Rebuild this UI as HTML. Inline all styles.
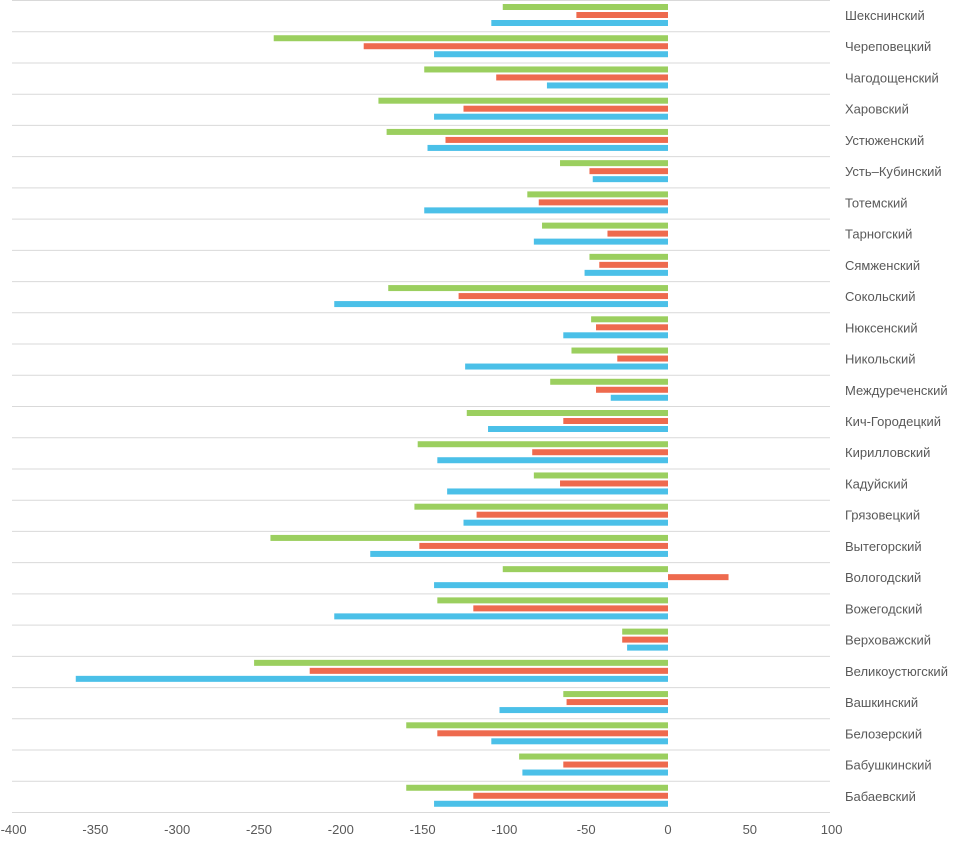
<!DOCTYPE html>
<html><head><meta charset="utf-8"><style>
body{margin:0;background:#fff;width:954px;height:836px;overflow:hidden;font-family:"Liberation Sans","DejaVu Sans",sans-serif}
</style></head><body>
<svg id="chart" width="954" height="836" xmlns="http://www.w3.org/2000/svg"></svg>
<script>
const categories=["Шекснинский","Череповецкий","Чагодощенский","Харовский","Устюженский","Усть–Кубинский","Тотемский","Тарногский","Сямженский","Сокольский","Нюксенский","Никольский","Междуреченский","Кич-Городецкий","Кирилловский","Кадуйский","Грязовецкий","Вытегорский","Вологодский","Вожегодский","Верховажский","Великоустюгский","Вашкинский","Белозерский","Бабушкинский","Бабаевский"];
const greenValues=[-101,-241,-149,-177,-172,-66,-86,-77,-48,-171,-47,-59,-72,-123,-153,-82,-155,-243,-101,-141,-28,-253,-64,-160,-91,-160];
const redValues=[-56,-186,-105,-125,-136,-48,-79,-37,-42,-128,-44,-31,-44,-64,-83,-66,-117,-152,37,-119,-28,-219,-62,-141,-64,-119];
const blueValues=[-108,-143,-74,-143,-147,-46,-149,-82,-51,-204,-64,-124,-35,-110,-141,-135,-125,-182,-143,-204,-25,-362,-103,-108,-89,-143];
const tickValues=[-400,-350,-300,-250,-200,-150,-100,-50,0,50,100];
const svg=document.getElementById('chart');
const NS='http://www.w3.org/2000/svg';
const x=v=>668+v*1.636;
const rowH=812/categories.length;
function mk(t,a){const e=document.createElementNS(NS,t);for(const k in a)e.setAttribute(k,a[k]);svg.appendChild(e);return e;}
for(let i=0;i<=categories.length;i++){
  const g=mk('line',{x1:12,x2:830,y1:i*rowH+0.5,y2:i*rowH+0.5,stroke:'#d9d9d9','stroke-width':1});
  
  
}
const series=[[greenValues,'#9bcf5f',4],[redValues,'#ee6a4e',12],[blueValues,'#4bc0e8',20]];
categories.forEach((c,i)=>{
  const top=i*rowH;
  series.forEach(([vals,col,off],s)=>{
    const v=vals[i];
    const r=mk('rect',{x:Math.min(x(0),x(v)),y:top+off,width:Math.abs(x(v)-x(0)),height:6,fill:col});
    
    
  });
  const t=mk('text',{x:845,y:top+20,fill:'#595959','font-size':13});
  t.textContent=c;
  
  
});
tickValues.forEach(v=>{
  const t=mk('text',{x:x(v),y:834,fill:'#595959','font-size':13,'text-anchor':'middle'});
  t.textContent=v;
  
  
});
</script>
</body></html>
